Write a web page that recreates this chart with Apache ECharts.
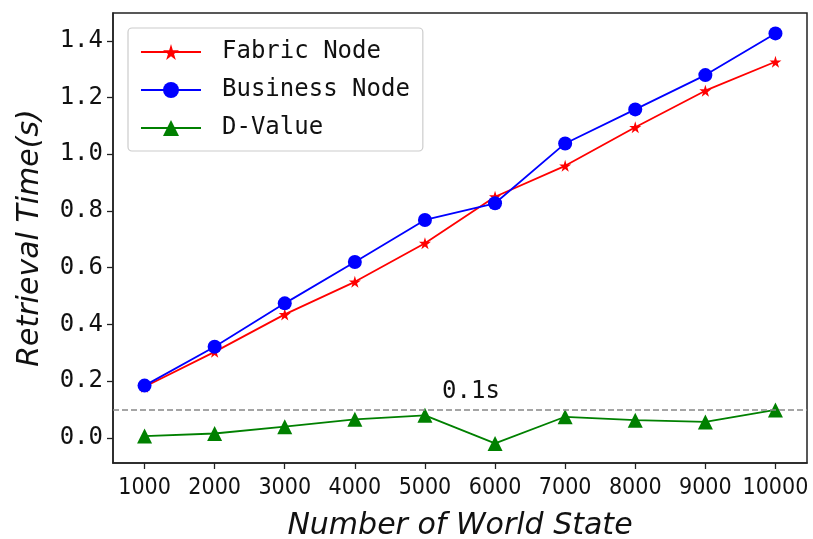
<!DOCTYPE html>
<html>
<head>
<meta charset="utf-8">
<script src="https://cdn.jsdelivr.net/npm/echarts@6/dist/echarts.min.js"></script>
<style>
  html, body { margin: 0; padding: 0; background: #fff; }
  #chart { width: 813px; height: 539px; }
</style>
</head>
<body>
<div id="chart"></div>
<script>
  // world state counts on the x axis
  const worldStates = [1000, 2000, 3000, 4000, 5000, 6000, 7000, 8000, 9000, 10000];
  // retrieval times (s)
  const fabricNode = [0.180, 0.303, 0.435, 0.550, 0.686, 0.850, 0.959, 1.095, 1.224, 1.326];
  const businessNode = [0.184, 0.321, 0.474, 0.620, 0.768, 0.827, 1.038, 1.158, 1.279, 1.426];
  const dValue = [0.006, 0.015, 0.039, 0.065, 0.079, -0.020, 0.074, 0.062, 0.056, 0.098];
  const yTicks = [0, 0.2, 0.4, 0.6, 0.8, 1.0, 1.2, 1.4];
  const thresholdY = 0.1;
  const thresholdLabel = '0.1s';

  const MONO = '"DejaVu Sans Mono", monospace';
  const COND = '"DejaVu Sans Condensed", "DejaVu Sans", sans-serif';
  const SANS = '"DejaVu Sans", sans-serif';
  const STAR = 'path://M50,0 L61,35 L98,35 L68,57 L79,91 L50,70 L21,91 L32,57 L2,35 L39,35 Z';

  const pairs = (ys) => ys.map((v, i) => [worldStates[i], v]);

  const chart = echarts.init(document.getElementById('chart'), null, { renderer: 'canvas' });

  chart.setOption({
    animation: false,
    backgroundColor: '#fff',
    grid: {
      left: 113, right: 6, top: 13, bottom: 76,
      outerBoundsMode: 'none', containLabel: false,
      show: true, borderColor: '#222', borderWidth: 1.5, backgroundColor: 'transparent'
    },
    legend: {
      orient: 'vertical',
      left: 128, top: 28,
      padding: [12, 13, 11, 12],
      itemWidth: 60, itemHeight: 20, itemGap: 14,
      backgroundColor: 'rgba(255,255,255,0.85)',
      borderColor: '#cccccc', borderWidth: 1.2, borderRadius: 4,
      textStyle: { fontFamily: MONO, fontSize: 24, color: '#111', padding: [0, 0, 0, 16] },
      data: ['Fabric Node', 'Business Node', 'D-Value']
    },
    xAxis: {
      type: 'value', min: 550, max: 10450,
      name: 'Number of World State', nameLocation: 'middle', nameGap: 48,
      nameTextStyle: { fontFamily: SANS, fontStyle: 'italic', fontSize: 30, color: '#111' },
      axisLine: { show: true, onZero: false, lineStyle: { color: '#222', width: 1.5 } },
      axisTick: { show: true, inside: false, length: 6, customValues: worldStates, lineStyle: { color: '#222', width: 1.3 } },
      axisLabel: {
        customValues: worldStates, fontFamily: COND, fontSize: 23, color: '#111', margin: 14,
        formatter: (v) => String(v)
      },
      splitLine: { show: false }
    },
    yAxis: {
      type: 'value', min: -0.089, max: 1.498,
      name: 'Retrieval Time(s)', nameLocation: 'middle', nameGap: 68,
      nameTextStyle: { fontFamily: SANS, fontStyle: 'italic', fontSize: 30, color: '#111' },
      axisLine: { show: true, onZero: false, lineStyle: { color: '#222', width: 1.5 } },
      axisTick: { show: true, inside: false, length: 6, customValues: yTicks, lineStyle: { color: '#222', width: 1.3 } },
      axisLabel: {
        customValues: yTicks, fontFamily: MONO, fontSize: 24, color: '#111', margin: 10,
        formatter: (v) => v.toFixed(1)
      },
      splitLine: { show: false }
    },
    series: [
      {
        name: 'Fabric Node', type: 'line', data: pairs(fabricNode),
        symbol: STAR, symbolSize: 12, showAllSymbol: true, z: 3,
        itemStyle: { color: '#ff0000' }, lineStyle: { color: '#ff0000', width: 1.8 }
      },
      {
        name: 'Business Node', type: 'line', data: pairs(businessNode),
        symbol: 'circle', symbolSize: 14, showAllSymbol: true, z: 4,
        itemStyle: { color: '#0000ff' }, lineStyle: { color: '#0000ff', width: 1.8 }
      },
      {
        name: 'D-Value', type: 'line', data: pairs(dValue),
        symbol: 'triangle', symbolSize: 15, showAllSymbol: true, z: 3,
        itemStyle: { color: '#008000' }, lineStyle: { color: '#008000', width: 1.8 },
        markLine: {
          silent: true, symbol: 'none',
          lineStyle: { color: '#888888', type: [6, 3], width: 1.5 },
          label: {
            show: true, position: 'insideMiddleTop', formatter: thresholdLabel,
            fontFamily: MONO, fontSize: 24, color: '#111', distance: 6, padding: [0, 0, 0, 22]
          },
          data: [{ yAxis: thresholdY }]
        }
      }
    ]
  });
</script>
</body>
</html>
